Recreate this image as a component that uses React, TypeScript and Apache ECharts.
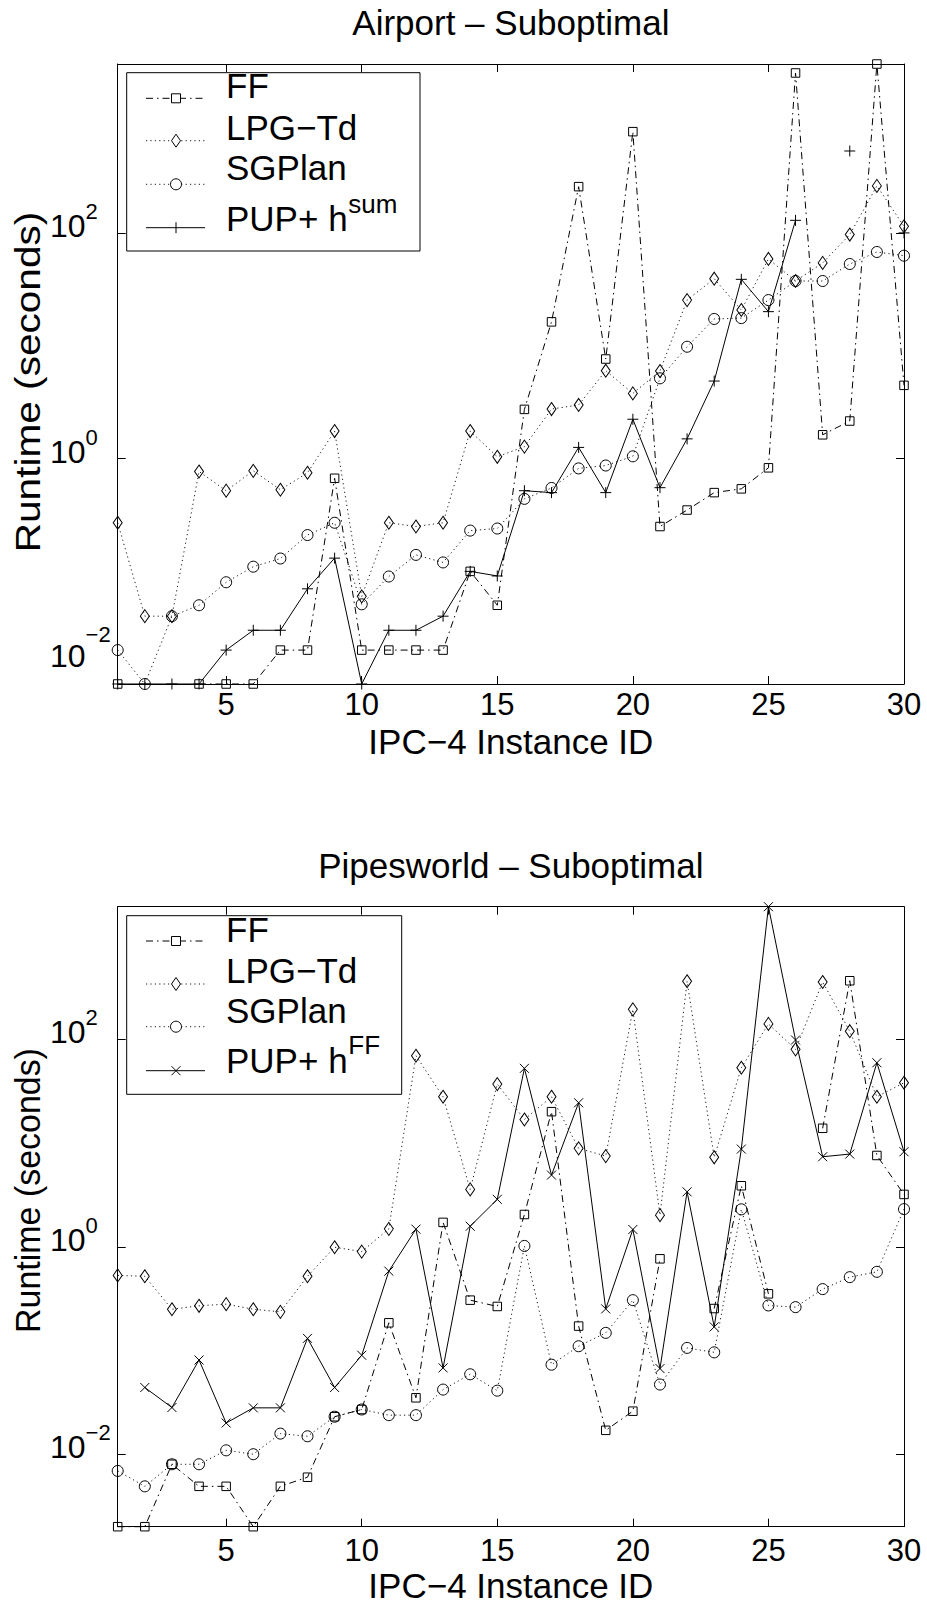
import React, { useEffect, useRef } from 'react';
import * as echarts from 'echarts';

// Instance IDs on the x axis and the tick values of both axes
const instanceIds = [1, 2, 3, 4, 5, 6, 7, 8, 9, 10, 11, 12, 13, 14, 15, 16, 17, 18, 19, 20, 21, 22, 23, 24, 25, 26, 27, 28, 29, 30];
const xTickValues = [5, 10, 15, 20, 25, 30];
const xMirrorTickValues = [5, 10, 15, 20, 25];
const yTickValues = [0.01, 1, 100];

// Airport domain, runtime in seconds (null = no result)
const airportFF = [0.01, null, null, 0.01, 0.01, 0.01, 0.02, 0.02, 0.67, 0.02, 0.02, 0.02, 0.02, 0.1, 0.05, 2.74, 16.4, 260, 7.67, 800, 0.25, 0.35, 0.5, 0.54, 0.83, 2655, 1.63, 2.16, 3190, 4.48];
const airportLPG = [0.27, 0.04, 0.04, 0.77, 0.52, 0.78, 0.53, 0.75, 1.76, 0.06, 0.27, 0.25, 0.27, 1.76, 1.04, 1.28, 2.76, 3.0, 6.04, 3.8, 6.0, 25.6, 39.6, 20.9, 59.3, 37.8, 54.7, 97.7, 264, 115.6];
const airportSGPlan = [0.02, 0.01, 0.04, 0.05, 0.08, 0.11, 0.13, 0.21, 0.27, 0.051, 0.09, 0.14, 0.12, 0.23, 0.24, 0.44, 0.55, 0.82, 0.87, 1.05, 5.17, 9.86, 17.4, 17.7, 25.6, 37.8, 37.8, 53.5, 68.4, 63.4];
const airportPUP = [0.01, 0.01, 0.01, 0.01, 0.02, 0.03, 0.03, 0.07, 0.131, 0.01, 0.03, 0.03, 0.04, 0.1, 0.091, 0.52, 0.5, 1.26, 0.5, 2.24, 0.553, 1.5, 4.89, 39.1, 20.2, 130.6, null, 539, null, 101];

// Pipesworld domain, runtime in seconds (null = no result)
const pipesFF = [0.002, 0.002, 0.008, 0.0049, 0.0049, 0.002, 0.0049, 0.006, 0.023, 0.027, 0.185, 0.035, 1.72, 0.306, 0.266, 2.05, 20.1, 0.172, 0.017, 0.026, 0.766, null, 0.254, 3.88, 0.352, null, 13.9, 368, 7.6, 3.2];
const pipesLPG = [0.53, 0.52, 0.25, 0.27, 0.28, 0.25, 0.236, 0.52, 0.99, 0.9, 1.49, 69.6, 28.0, 3.58, 37.1, 16.9, 28.0, 8.9, 7.5, 195, 2.02, 364, 7.3, 53.3, 141, 80.2, 358, 120, 28.0, 38.2];
const pipesSGPlan = [0.0069, 0.0049, 0.008, 0.008, 0.0109, 0.01, 0.0158, 0.0149, 0.023, 0.027, 0.0238, 0.0238, 0.042, 0.059, 0.041, 1.02, 0.073, 0.11, 0.148, 0.306, 0.047, 0.106, 0.096, 2.3, 0.272, 0.262, 0.391, 0.51, 0.574, 2.31];
const pipesPUP = [null, 0.044, 0.0282, 0.081, 0.02, 0.028, 0.028, 0.131, 0.044, 0.09, 0.583, 1.48, 0.068, 1.58, 2.87, 52.6, 4.92, 24.5, 0.252, 1.47, 0.067, 3.39, 0.169, 8.76, 1905, 98.7, 7.39, 7.84, 59.6, 8.26];

const legendNames = ['FF', 'LPG\u2212Td', 'SGPlan', 'PUP+ h'];

const FONT = '"Liberation Sans", Arial, Helvetica, sans-serif';
const BLACK = '#000';
const DASH_DOT = [7, 4, 1.5, 4];
const DOTTED = [1.2, 3.2];
const PLUS = 'path://M0,5L10,5M5,0L5,10';
const CROSS = 'path://M0,0L10,10M10,0L0,10';

const GRID_LEFT = 117.7;
const GRID_WIDTH = 786.3;
const GRID_HEIGHT = 620;

type Panel = {
  title: string;
  top: number;
  ff: (number | null)[];
  lpg: (number | null)[];
  sg: (number | null)[];
  pup: (number | null)[];
  pupSup: string;
  pupMarker: 'plus' | 'cross';
  titleY: number;
  xNameY: number;
  yNameY: number;
  yNameScale: number;
  xLabelMargin: number;
  legendBox: [number, number, number, number];
  legendLineY: number[];
  legendTextY: number[];
  supY: number;
};

const panels: Panel[] = [
  {
    title: 'Airport \u2013 Suboptimal',
    top: 64,
    ff: airportFF,
    lpg: airportLPG,
    sg: airportSGPlan,
    pup: airportPUP,
    pupSup: 'sum',
    pupMarker: 'plus',
    titleY: 22.5,
    xNameY: 741,
    yNameY: 382,
    yNameScale: 1.16,
    xLabelMargin: 5,
    legendBox: [126.7, 72.7, 293.3, 178.3],
    legendLineY: [98.3, 140.7, 184.3, 227.7],
    legendTextY: [85.5, 127.2, 167, 218.2],
    supY: 203.5,
  },
  {
    title: 'Pipesworld \u2013 Suboptimal',
    top: 906.7,
    ff: pipesFF,
    lpg: pipesLPG,
    sg: pipesSGPlan,
    pup: pipesPUP,
    pupSup: 'FF',
    pupMarker: 'cross',
    titleY: 865.2,
    xNameY: 1585.5,
    yNameY: 1190.5,
    yNameScale: 0.97,
    xLabelMargin: 8,
    legendBox: [126.7, 915.7, 275, 178.6],
    legendLineY: [941, 984, 1026.7, 1070.7],
    legendTextY: [929, 970, 1010, 1060],
    supY: 1044.8,
  },
];

const toPairs = (vals: (number | null)[]) =>
  instanceIds.map((id, i) => (vals[i] == null ? [id, '-'] : [id, vals[i]]));

const markerStyle = { color: 'rgba(0,0,0,0)', borderColor: BLACK, borderWidth: 1 };

function exponentText(v: number) {
  const e = Math.round(Math.log10(v));
  return (e < 0 ? '\u2212' : '') + Math.abs(e);
}

// Rich styles for "10" with a raised exponent; paddings give every token the
// same height so the base digits and the exponent sit at fixed offsets.
const tickRich = {
  b: { fontSize: 32, lineHeight: 32, fontFamily: FONT, color: BLACK, padding: [9.5, 0, 23.5, 0] },
  e: { fontSize: 22, lineHeight: 22, fontFamily: FONT, color: BLACK, padding: [0, 0, 43, 0] },
  bl: { fontSize: 32, lineHeight: 32, fontFamily: FONT, color: BLACK, padding: [16.5, 0, 71.5, 0] },
  el: { fontSize: 22, lineHeight: 22, fontFamily: FONT, color: BLACK, padding: [0, 0, 98, 0] },
};

function buildOption() {
  const xAxis: any[] = [];
  const yAxis: any[] = [];
  const series: any[] = [];
  const graphic: any[] = [];

  panels.forEach((p, pi) => {
    const all = [...p.ff, ...p.lpg, ...p.sg, ...p.pup].filter((v) => v != null) as number[];
    const yMin = Math.min(...all);
    const yMax = Math.max(...all);
    const axisMin = yMin * 0.99999;
    const axisMax = yMax * 1.00001;

    const axisLine = { show: true, onZero: false, lineStyle: { color: BLACK, width: 1 } };

    xAxis.push({
      type: 'value',
      gridIndex: pi,
      position: 'bottom',
      min: 1,
      max: 30,
      axisLine,
      axisTick: { show: true, inside: true, length: 8, customValues: xTickValues, lineStyle: { color: BLACK, width: 1 } },
      axisLabel: { show: true, customValues: xTickValues, fontSize: 31, fontFamily: FONT, color: BLACK, margin: p.xLabelMargin },
      splitLine: { show: false },
    });
    xAxis.push({
      type: 'value',
      gridIndex: pi,
      position: 'top',
      min: 1,
      max: 30,
      axisLine,
      axisTick: { show: true, inside: true, length: 8, customValues: xMirrorTickValues, lineStyle: { color: BLACK, width: 1 } },
      axisLabel: { show: false },
      splitLine: { show: false },
    });

    yAxis.push({
      type: 'log',
      logBase: 10,
      gridIndex: pi,
      position: 'left',
      min: axisMin,
      max: axisMax,
      axisLine,
      axisTick: { show: true, inside: true, length: 8, customValues: yTickValues, lineStyle: { color: BLACK, width: 1 } },
      minorTick: { show: false },
      axisLabel: {
        show: true,
        customValues: yTickValues,
        align: 'left',
        margin: GRID_LEFT - 50,
        formatter: (v: number) => {
          const atCorner = v <= yMin * 1.0001;
          return atCorner ? `{bl|10}{el|${exponentText(v)}}` : `{b|10}{e|${exponentText(v)}}`;
        },
        rich: tickRich,
      },
      splitLine: { show: false },
    });
    yAxis.push({
      type: 'log',
      logBase: 10,
      gridIndex: pi,
      position: 'right',
      min: axisMin,
      max: axisMax,
      axisLine,
      axisTick: { show: true, inside: true, length: 8, customValues: yTickValues, lineStyle: { color: BLACK, width: 1 } },
      minorTick: { show: false },
      axisLabel: { show: false },
      splitLine: { show: false },
    });

    const xi = pi * 2;
    const yi = pi * 2;
    const common = {
      type: 'line',
      xAxisIndex: xi,
      yAxisIndex: yi,
      clip: false,
      silent: true,
      connectNulls: false,
      emphasis: { disabled: true },
      itemStyle: markerStyle,
      z: 3,
    };
    series.push({
      ...common,
      name: legendNames[0],
      data: toPairs(p.ff),
      symbol: 'rect',
      symbolSize: 8.5,
      lineStyle: { color: BLACK, width: 1, type: DASH_DOT },
    });
    series.push({
      ...common,
      name: legendNames[1],
      data: toPairs(p.lpg),
      symbol: 'diamond',
      symbolSize: [9, 13],
      lineStyle: { color: BLACK, width: 0.9, type: DOTTED },
    });
    series.push({
      ...common,
      name: legendNames[2],
      data: toPairs(p.sg),
      symbol: 'circle',
      symbolSize: 11,
      lineStyle: { color: BLACK, width: 0.9, type: DOTTED },
    });
    series.push({
      ...common,
      name: legendNames[3],
      data: toPairs(p.pup),
      symbol: p.pupMarker === 'plus' ? PLUS : CROSS,
      symbolSize: p.pupMarker === 'plus' ? 11 : 9,
      lineStyle: { color: BLACK, width: 1, type: 'solid' },
    });

    // Title and axis names
    const centerX = GRID_LEFT + GRID_WIDTH / 2;
    graphic.push({
      type: 'text',
      x: centerX,
      y: p.titleY,
      style: { text: p.title, fontSize: 35, fontFamily: FONT, fill: BLACK, align: 'center', verticalAlign: 'middle' },
    });
    graphic.push({
      type: 'text',
      x: centerX,
      y: p.xNameY,
      style: { text: 'IPC\u22124 Instance ID', fontSize: 35, fontFamily: FONT, fill: BLACK, align: 'center', verticalAlign: 'middle' },
    });
    graphic.push({
      type: 'text',
      x: 28,
      y: p.yNameY,
      rotation: Math.PI / 2,
      scaleX: p.yNameScale,
      style: { text: 'Runtime (seconds)', fontSize: 35, fontFamily: FONT, fill: BLACK, align: 'center', verticalAlign: 'middle' },
    });

    // Legend box with line samples, markers and labels
    const [bx, by, bw, bh] = p.legendBox;
    const children: any[] = [];
    children.push({
      type: 'rect',
      shape: { x: bx, y: by, width: bw, height: bh },
      style: { fill: '#fff', stroke: BLACK, lineWidth: 1 },
    });
    const lx1 = 146;
    const lx2 = 205;
    const mx = 176;
    const dashes = [DASH_DOT, DOTTED, DOTTED, null];
    p.legendLineY.forEach((ly, k) => {
      children.push({
        type: 'line',
        shape: { x1: lx1, y1: ly, x2: lx2, y2: ly },
        style: { stroke: BLACK, lineWidth: k === 1 || k === 2 ? 0.9 : 1, lineDash: dashes[k] || null },
      });
    });
    const [y0, y1, y2, y3] = p.legendLineY;
    children.push({ type: 'rect', shape: { x: mx - 4.5, y: y0 - 4.5, width: 9, height: 9 }, style: { fill: '#fff', stroke: BLACK, lineWidth: 1 } });
    children.push({
      type: 'polygon',
      shape: { points: [[mx, y1 - 6.5], [mx + 4.5, y1], [mx, y1 + 6.5], [mx - 4.5, y1]] },
      style: { fill: '#fff', stroke: BLACK, lineWidth: 1 },
    });
    children.push({ type: 'circle', shape: { cx: mx, cy: y2, r: 5.5 }, style: { fill: '#fff', stroke: BLACK, lineWidth: 1 } });
    if (p.pupMarker === 'plus') {
      children.push({ type: 'line', shape: { x1: mx, y1: y3 - 5.5, x2: mx, y2: y3 + 5.5 }, style: { stroke: BLACK, lineWidth: 1 } });
    } else {
      children.push({ type: 'line', shape: { x1: mx - 4.5, y1: y3 - 4.5, x2: mx + 4.5, y2: y3 + 4.5 }, style: { stroke: BLACK, lineWidth: 1 } });
      children.push({ type: 'line', shape: { x1: mx - 4.5, y1: y3 + 4.5, x2: mx + 4.5, y2: y3 - 4.5 }, style: { stroke: BLACK, lineWidth: 1 } });
    }
    p.legendTextY.forEach((ty, k) => {
      children.push({
        type: 'text',
        x: 226,
        y: ty,
        style: { text: legendNames[k], fontSize: 35, fontFamily: FONT, fill: BLACK, align: 'left', verticalAlign: 'middle' },
      });
    });
    children.push({
      type: 'text',
      x: 348.3,
      y: p.supY,
      style: { text: p.pupSup, fontSize: 26, fontFamily: FONT, fill: BLACK, align: 'left', verticalAlign: 'middle' },
    });
    graphic.push({ type: 'group', z: 100, children });
  });

  return {
    animation: false,
    backgroundColor: '#fff',
    grid: panels.map((p) => ({
      left: GRID_LEFT,
      top: p.top,
      width: GRID_WIDTH,
      height: GRID_HEIGHT,
      containLabel: false,
      outerBoundsMode: 'none',
    })),
    xAxis,
    yAxis,
    series,
    graphic,
  };
}

export default function App() {
  const ref = useRef<HTMLDivElement>(null);
  useEffect(() => {
    document.body.style.margin = '0';
    const chart = echarts.init(ref.current as HTMLDivElement, null, { renderer: 'svg' });
    chart.setOption(buildOption() as any);
    return () => chart.dispose();
  }, []);
  return <div ref={ref} style={{ width: 927, height: 1605 }} />;
}
